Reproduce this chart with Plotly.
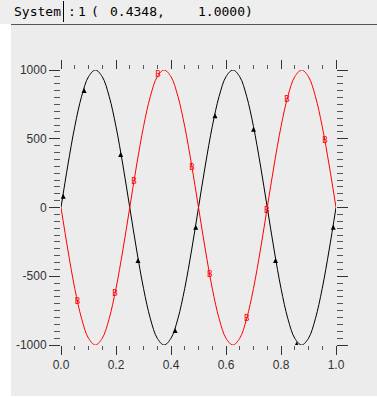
import plotly.graph_objects as go

# Curve samples (x every 0.025)
x_vals = [i / 40 for i in range(41)]
black_vals = [0, 309, 588, 809, 951, 1000, 951, 809, 588, 309,
              0, -309, -588, -809, -951, -1000, -951, -809, -588, -309,
              0, 309, 588, 809, 951, 1000, 951, 809, 588, 309,
              0, -309, -588, -809, -951, -1000, -951, -809, -588, -309, 0]
red_vals = [0, -309, -588, -809, -951, -1000, -951, -809, -588, -309,
            0, 309, 588, 809, 951, 1000, 951, 809, 588, 309,
            0, -309, -588, -809, -951, -1000, -951, -809, -588, -309,
            0, 309, 588, 809, 951, 1000, 951, 809, 588, 309, 0]

# Marker positions
black_mx = [0.008, 0.084, 0.217, 0.28, 0.415, 0.49, 0.56, 0.70, 0.78, 0.857, 0.99]
black_my = [100, 869, 403, -368, -876, -125, 685, 588, -368, -975, -125]
red_mx = [0.06, 0.196, 0.265, 0.353, 0.476, 0.541, 0.675, 0.748, 0.822, 0.96]
red_my = [-687, -628, 185, 963, 290, -491, -810, -25, 787, 482]

x_ticks = [0.0, 0.2, 0.4, 0.6, 0.8, 1.0]
x_ticklabels = ["0.0", "0.2", "0.4", "0.6", "0.8", "1.0"]
y_ticks = [-1000, -500, 0, 500, 1000]
y_ticklabels = ["-1000", "-500", "0", "500", "1000"]

fig = go.Figure()
fig.add_trace(go.Scatter(x=x_vals, y=black_vals, mode="lines",
                         line=dict(color="#000000", width=1, shape="spline"),
                         hoverinfo="skip"))
fig.add_trace(go.Scatter(x=x_vals, y=red_vals, mode="lines",
                         line=dict(color="#ff0000", width=1, shape="spline"),
                         hoverinfo="skip"))
fig.add_trace(go.Scatter(x=black_mx, y=black_my, mode="markers",
                         marker=dict(symbol="arrow-up", size=5, color="#000000",
                                     line=dict(width=0)),
                         hoverinfo="skip"))
fig.add_trace(go.Scatter(x=red_mx, y=red_my, mode="text", text=["B"] * len(red_mx),
                         textfont=dict(family="DejaVu Sans Mono", size=9, color="#ff0000"),
                         hoverinfo="skip"))

W, H = 377, 398
L, R, T, B = 61, 41, 70, 53
tick_font = dict(family="Liberation Sans, Arial, sans-serif", size=12, color="#333333")

fig.update_layout(
    width=W, height=H,
    margin=dict(l=L, r=R, t=T, b=B, pad=0),
    paper_bgcolor="#ffffff",
    plot_bgcolor="#ececec",
    showlegend=False,
    xaxis=dict(range=[0, 1], tickvals=x_ticks, ticktext=x_ticklabels,
               showgrid=False, zeroline=False, showline=True, linecolor="#ececec",
               layer="below traces", mirror="ticks",
               ticks="outside", ticklen=9, tickwidth=1, tickcolor="#333333",
               minor=dict(dtick=0.05, ticks="outside", ticklen=4, tickcolor="#555555",
                          showgrid=False),
               tickfont=tick_font, fixedrange=True),
    yaxis=dict(range=[-1000, 1000], tickvals=y_ticks, ticktext=y_ticklabels,
               showgrid=False, zeroline=False, showline=True, linecolor="#ececec",
               layer="below traces", mirror="ticks",
               ticks="outside", ticklen=11, tickwidth=1, tickcolor="#333333",
               minor=dict(dtick=50, ticks="outside", ticklen=6, tickcolor="#555555",
                          showgrid=False),
               tickfont=tick_font, fixedrange=True),
)

# Window background regions (gray panel, separator, status text)
fig.add_shape(type="rect", xref="paper", yref="paper", layer="below",
              x0=(11 - L) / (W - L - R), x1=(W - L) / (W - L - R),
              y0=(H - B - 396) / (H - T - B), y1=(H - B - 25) / (H - T - B),
              fillcolor="#ececec", line=dict(width=0))
fig.add_shape(type="rect", xref="paper", yref="paper", layer="below",
              x0=(0 - L) / (W - L - R), x1=(W - L) / (W - L - R),
              y0=(H - B - 24) / (H - T - B), y1=(H - B - 0) / (H - T - B),
              fillcolor="#eeeeee", line=dict(width=0))
fig.add_shape(type="line", xref="paper", yref="paper",
              x0=(11 - L) / (W - L - R), x1=(W - L) / (W - L - R),
              y0=(H - B - 24.5) / (H - T - B), y1=(H - B - 24.5) / (H - T - B),
              line=dict(color="#555555", width=1))
fig.add_shape(type="line", xref="paper", yref="paper",
              x0=(63.5 - L) / (W - L - R), x1=(63.5 - L) / (W - L - R),
              y0=(H - B - 22) / (H - T - B), y1=(H - B - 1) / (H - T - B),
              line=dict(color="#000000", width=1))

status_font = dict(family="DejaVu Sans Mono", size=13, color="#000000")
for txt, px in [("System", 12), (":", 66), ("1", 76), ("(", 89),
                ("0.4348,", 108), ("1.0000)", 196)]:
    fig.add_annotation(text=txt, xref="paper", yref="paper",
                       x=(px - L) / (W - L - R), y=(H - B - 12) / (H - T - B),
                       xanchor="left", yanchor="middle", showarrow=False,
                       font=status_font)

fig.write_html("out.html", config={"displayModeBar": False, "staticPlot": True},
               post_script="document.body.style.margin='0';")
